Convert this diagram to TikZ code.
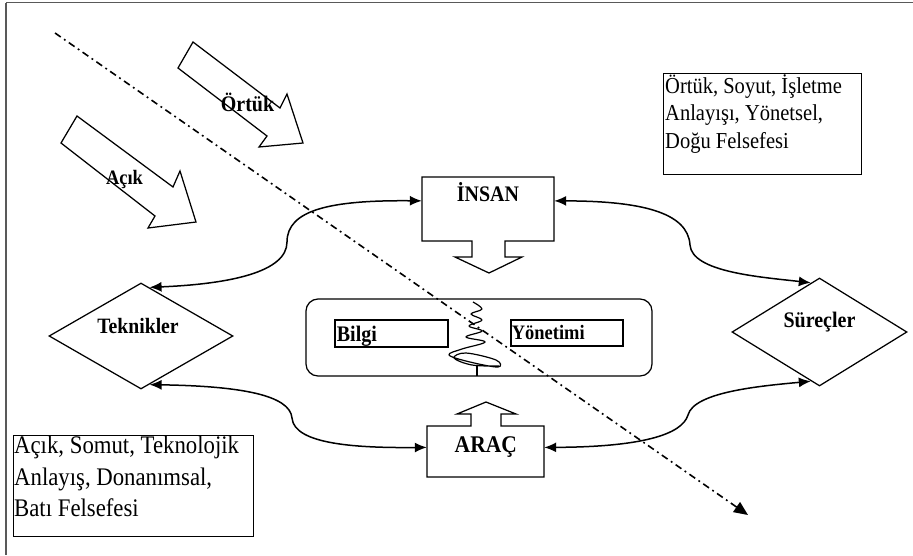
\documentclass[tikz,border=0pt]{standalone}
\usepackage{fontspec}
\setmainfont{Liberation Serif}[FakeStretch=0.9]
\usetikzlibrary{arrows.meta,shapes.geometric,calc}
\begin{document}
\begin{tikzpicture}[x=1pt,y=-1pt,
  frameline/.style={draw=black!65, line width=1.8pt},
  outline/.style={draw=black, line width=1.25pt, fill=white},
  hollowarrow/.style={draw=black, line width=1.25pt, fill=white, line join=miter},
  boldtext/.style={font=\bfseries\fontsize{22.2}{26}\selectfont, inner sep=0pt, anchor=base},
  bodytext/.style={inner sep=0pt, anchor=north west, align=left},
  link/.style={line width=1.5pt, {Latex[length=12pt,width=10pt]}-{Latex[length=12pt,width=10pt]}},
  axisline/.style={line width=1.6pt, dash pattern=on 7pt off 4pt on 1.8pt off 4pt, -{Triangle[length=14pt,width=12pt]}}
]
\useasboundingbox (0,0) rectangle (913,555);

% page frame (top and left edges)
\draw[frameline] (6,2.5) -- (913,2.5);
\draw[frameline] (6,2.5) -- (6,555);

% hollow block arrows
\draw[hollowarrow] (193,42) -- (280,108) -- (287,94) -- (303,143) -- (259,147) -- (267,136) -- (178,68) -- cycle;
\draw[hollowarrow] (77,116) -- (173,187) -- (180,171) -- (196,222) -- (148,228) -- (155,216) -- (61,143) -- cycle;
\node[boldtext] (ortuk) at (247.5,111) {Örtük};
\node[boldtext, font=\bfseries\fontsize{20.5}{24}\selectfont] (acik) at (124.5,184) {Açık};

% description boxes
\node[draw, line width=1.1pt, minimum width=198pt, minimum height=101pt, anchor=north west, inner sep=0pt] (eastbox) at (663,73) {};
\node[bodytext, font=\fontsize{22.8}{27.5}\selectfont] (easttext) at ($(eastbox.north west)+(2,1)$)
  {Örtük, Soyut, İşletme\\Anlayışı, Yönetsel,\\Doğu Felsefesi};
\node[draw, line width=1.1pt, minimum width=240pt, minimum height=101pt, anchor=north west, inner sep=0pt] (westbox) at (13,435) {};
\node[bodytext, font=\fontsize{25.3}{31.5}\selectfont] (westtext) at ($(westbox.north west)+(1,1)$)
  {Açık, Somut, Teknolojik\\Anlayış, Donanımsal,\\Batı Felsefesi};

% İNSAN callout (box with downward arrow)
\node[minimum width=132pt, minimum height=64pt, inner sep=0pt] (insan) at (488,209) {};
\draw[outline, shift={(insan.center)}] (-66,-32) -- (66,-32) -- (66,32) -- (17,32) -- (17,48) -- (34,48)
  -- (1,64) -- (-33,48) -- (-16,48) -- (-16,32) -- (-66,32) -- cycle;
\node[boldtext] (insanlabel) at (488,201.5) {İNSAN};

% ARAÇ callout (box with upward arrow)
\node[minimum width=117pt, minimum height=51pt, inner sep=0pt] (arac) at (485.5,451.5) {};
\draw[outline, shift={(arac.center)}] (-58.5,25.5) -- (58.5,25.5) -- (58.5,-25.5) -- (15.5,-25.5) -- (15.5,-37.5)
  -- (30.5,-37.5) -- (0.5,-49.5) -- (-28.5,-37.5) -- (-14.5,-37.5) -- (-14.5,-25.5) -- (-58.5,-25.5) -- cycle;
\node[boldtext, font=\bfseries\fontsize{23.9}{28}\selectfont] (araclabel) at (485.8,452) {ARAÇ};

% side diamonds
\node[draw, line width=1.25pt, diamond, minimum width=184pt, minimum height=106pt, inner sep=0pt] (tek) at (141,336) {};
\node[boldtext, font=\bfseries\fontsize{21.9}{26}\selectfont] (teklabel) at (138,333) {Teknikler};
\node[draw, line width=1.25pt, diamond, minimum width=175pt, minimum height=108pt, inner sep=0pt] (sur) at (819.5,332) {};
\node[boldtext] (surlabel) at (819.5,327) {Süreçler};

% central rounded panel
\node[draw, line width=1.25pt, rounded corners=12pt, minimum width=346pt, minimum height=77pt, inner sep=0pt] (core) at (479,337.5) {};
\node[draw, line width=1.1pt, minimum width=113pt, minimum height=27pt, inner sep=0pt] (bilgibox) at (391.5,333.5) {};
\node[boldtext, anchor=base west] (bilgi) at (336.7,341.7) {Bilgi};
\node[draw, line width=1.1pt, minimum width=112pt, minimum height=26pt, inner sep=0pt] (yonbox) at (567,333) {};
\node[boldtext, anchor=base west, font=\bfseries\fontsize{20.5}{24}\selectfont] (yon) at (511.7,339.3) {Yönetimi};

% squiggle between the two words
\draw[line width=1.2pt, line join=round] plot[smooth, tension=0.6] coordinates {(473,302) (482,309) (471,314) (482,320) (469,326) (482,331) (466,337) (485,342) (462,349) (449,355) (470,362) (498,367) (496,360) (466,353) (454,358) (472,365) (499,366)};
\draw[line width=1.2pt] (477,365) -- (477,376);

% curved two-way connectors
\draw[link] (tek.80) .. controls (230,284) and (287,272) .. (287,242) .. controls (287,210) and (330,200) .. (insan.173);
\draw[link] (insan.7) .. controls (640,201) and (688,212) .. (690,245) .. controls (692,272) and (760,277) .. (sur.100);
\draw[link] (tek.-80) .. controls (240,386) and (290,395) .. (292,418) .. controls (294,445) and (360,448) .. (arac.176);
\draw[link] (arac.4) .. controls (640,447) and (682,435) .. (688,415) .. controls (694,392) and (760,386) .. (sur.-100);

% dash-dot dividing line
\coordinate (axisstart) at (55,33);
\coordinate (axisend) at (748,515);
\draw[axisline] (axisstart) -- (axisend);
\end{tikzpicture}
\end{document}
